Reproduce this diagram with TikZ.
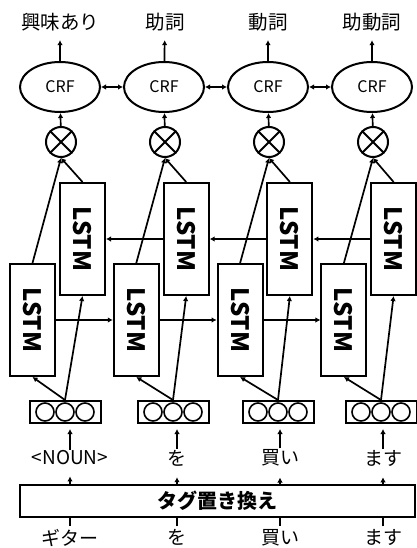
\documentclass[tikz,border=0pt]{standalone}
\usepackage{fontspec}
\setmainfont{Noto Sans CJK JP}
\usepackage{graphicx}
\usepackage{tikz}
\usetikzlibrary{shapes.geometric, arrows.meta, positioning, calc}

\begin{document}
\begin{tikzpicture}[
    x=1pt, y=-1pt,
    lstmbox/.style={rectangle, draw, line width=2pt, minimum width=45pt, minimum height=112pt, inner sep=0pt, font=\fontsize{24}{26}\selectfont\bfseries},
    crf/.style={ellipse, draw, line width=2pt, minimum width=80pt, minimum height=50pt, inner sep=0pt, font=\fontsize{16}{18}\selectfont},
    mult/.style={circle, draw, line width=2pt, minimum size=30pt, inner sep=0pt},
    emb/.style={rectangle, draw, line width=2pt, minimum width=71pt, minimum height=22pt, inner sep=0pt},
    unit/.style={circle, draw, line width=1.6pt, minimum size=18pt, inner sep=0pt},
    word/.style={font=\fontsize{19}{21}\selectfont, inner sep=1pt},
    tag/.style={font=\fontsize{19.5}{21}\selectfont, inner sep=1pt},
    arr/.style={-{Latex[length=5pt, width=5.5pt]}, line width=1.7pt},
    link/.style={{Latex[length=5pt, width=5.5pt]}-{Latex[length=5pt, width=5.5pt]}, line width=1.7pt},
]
    \useasboundingbox (0,0) rectangle (417,548);

    % output tags
    \node[tag] (out1) at (60,22) {興味あり};
    \node[tag] (out2) at (165,22) {助詞};
    \node[tag] (out3) at (268,22) {動詞};
    \node[tag] (out4) at (372,22) {助動詞};

    % CRF layer
    \node[crf] (crf1) at (60,87) {CRF};
    \node[crf] (crf2) at (164,87) {CRF};
    \node[crf] (crf3) at (268,87) {CRF};
    \node[crf] (crf4) at (372,87) {CRF};

    % merge
    \node[mult] (mul1) at (61,142) {};
    \node[mult] (mul2) at (165,142) {};
    \node[mult] (mul3) at (269,142) {};
    \node[mult] (mul4) at (373,142) {};
    \draw[line width=2pt] (mul1.45) -- (mul1.225) (mul1.135) -- (mul1.-45);
    \draw[line width=2pt] (mul2.45) -- (mul2.225) (mul2.135) -- (mul2.-45);
    \draw[line width=2pt] (mul3.45) -- (mul3.225) (mul3.135) -- (mul3.-45);
    \draw[line width=2pt] (mul4.45) -- (mul4.225) (mul4.135) -- (mul4.-45);

    % backward LSTM
    \node[lstmbox] (bwd1) at (82.5,239) {\rotatebox{-90}{LSTM}};
    \node[lstmbox] (bwd2) at (186.2,239) {\rotatebox{-90}{LSTM}};
    \node[lstmbox] (bwd3) at (289.9,239) {\rotatebox{-90}{LSTM}};
    \node[lstmbox] (bwd4) at (393.6,239) {\rotatebox{-90}{LSTM}};

    % forward LSTM
    \node[lstmbox] (fwd1) at (32.5,320) {\rotatebox{-90}{LSTM}};
    \node[lstmbox] (fwd2) at (136.3,320) {\rotatebox{-90}{LSTM}};
    \node[lstmbox] (fwd3) at (240.1,320) {\rotatebox{-90}{LSTM}};
    \node[lstmbox] (fwd4) at (343.9,320) {\rotatebox{-90}{LSTM}};

    % embeddings
    \node[emb] (emb1) at (65,412) {};
    \node[emb] (emb2) at (173,412) {};
    \node[emb] (emb3) at (278,412) {};
    \node[emb] (emb4) at (381,412) {};
    \node[unit] at ($(emb1)+(-20,0)$) {}; \node[unit] at (emb1) {}; \node[unit] at ($(emb1)+(20,0)$) {};
    \node[unit] at ($(emb2)+(-20,0)$) {}; \node[unit] at (emb2) {}; \node[unit] at ($(emb2)+(20,0)$) {};
    \node[unit] at ($(emb3)+(-20,0)$) {}; \node[unit] at (emb3) {}; \node[unit] at ($(emb3)+(20,0)$) {};
    \node[unit] at ($(emb4)+(-20,0)$) {}; \node[unit] at (emb4) {}; \node[unit] at ($(emb4)+(20,0)$) {};

    % replaced words
    \node[word] (in1) at (70,458) {<NOUN>};
    \node[word] (in2) at (177,458) {を};
    \node[word] (in3) at (280,458) {買い};
    \node[word] (in4) at (383,458) {ます};

    \node[rectangle, draw, line width=2pt, minimum width=395pt, minimum height=32pt, font=\fontsize{20}{22}\selectfont\bfseries] (swap) at (217.5,501) {タグ置き換え};

    % raw words
    \node[word] (raw1) at (70,537.5) {ギター};
    \node[word] (raw2) at (177,537.5) {を};
    \node[word] (raw3) at (280,537.5) {買い};
    \node[word] (raw4) at (383,537.5) {ます};

    \draw[line width=1.7pt, shorten <=2pt] (raw1) -- (raw1 |- swap.south);
    \draw[line width=1.7pt, shorten <=2pt] (raw2) -- (raw2 |- swap.south);
    \draw[line width=1.7pt, shorten <=2pt] (raw3) -- (raw3 |- swap.south);
    \draw[line width=1.7pt, shorten <=2pt] (raw4) -- (raw4 |- swap.south);

    \draw[arr, shorten >=10pt] (in1 |- swap.north) -- (in1);
    \draw[arr, shorten >=10pt] (in2 |- swap.north) -- (in2);
    \draw[arr, shorten >=10pt] (in3 |- swap.north) -- (in3);
    \draw[arr, shorten >=10pt] (in4 |- swap.north) -- (in4);

    \draw[arr, shorten >=5pt] (in1) -- (in1 |- emb1.south);
    \draw[arr, shorten >=5pt] (in2) -- (in2 |- emb2.south);
    \draw[arr, shorten >=5pt] (in3) -- (in3 |- emb3.south);
    \draw[arr, shorten >=5pt] (in4) -- (in4 |- emb4.south);

    \draw[arr] (emb1.north) -- (fwd1.south);
    \draw[arr] (emb1.north) -- (bwd1.south);
    \draw[arr] (emb2.north) -- (fwd2.south);
    \draw[arr] (emb2.north) -- (bwd2.south);
    \draw[arr] (emb3.north) -- (fwd3.south);
    \draw[arr] (emb3.north) -- (bwd3.south);
    \draw[arr] (emb4.north) -- (fwd4.south);
    \draw[arr] (emb4.north) -- (bwd4.south);

    \draw[arr] (fwd1) -- (fwd2);
    \draw[arr] (fwd2) -- (fwd3);
    \draw[arr] (fwd3) -- (fwd4);
    \draw[arr] (bwd4) -- (bwd3);
    \draw[arr] (bwd3) -- (bwd2);
    \draw[arr] (bwd2) -- (bwd1);

    \draw[arr] (fwd1.north) -- (mul1.south);
    \draw[arr] (bwd1.north) -- (mul1.south);
    \draw[arr] (fwd2.north) -- (mul2.south);
    \draw[arr] (bwd2.north) -- (mul2.south);
    \draw[arr] (fwd3.north) -- (mul3.south);
    \draw[arr] (bwd3.north) -- (mul3.south);
    \draw[arr] (fwd4.north) -- (mul4.south);
    \draw[arr] (bwd4.north) -- (mul4.south);

    \draw[arr] (mul1) -- (crf1);
    \draw[arr] (mul2) -- (crf2);
    \draw[arr] (mul3) -- (crf3);
    \draw[arr] (mul4) -- (crf4);

    \draw[link] (crf1) -- (crf2);
    \draw[link] (crf2) -- (crf3);
    \draw[link] (crf3) -- (crf4);

    \draw[arr, shorten >=8pt] (crf1) -- (out1);
    \draw[arr, shorten >=8pt] (crf2) -- (out2);
    \draw[arr, shorten >=8pt] (crf3) -- (out3);
    \draw[arr, shorten >=8pt] (crf4) -- (out4);
\end{tikzpicture}
\end{document}
